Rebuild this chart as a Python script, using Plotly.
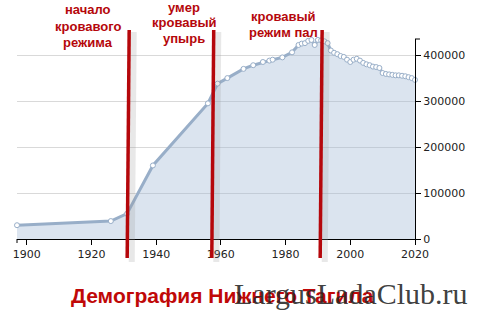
import plotly.graph_objects as go

years = [1897, 1926, 1931, 1939, 1956, 1959, 1962, 1967, 1970, 1973, 1975, 1976, 1979,
         1982, 1984, 1985, 1986, 1987, 1988, 1989, 1990, 1991, 1992, 1993, 1994, 1995,
         1996, 1997, 1998, 1999, 2000, 2001, 2002, 2003, 2004, 2005, 2006, 2007, 2008,
         2009, 2010, 2011, 2012, 2013, 2014, 2015, 2016, 2017, 2018, 2019, 2020]
population = [30000, 39000, 55000, 160000, 295000, 338000, 350000, 370000, 378000, 385000,
              388000, 390000, 395000, 406000, 422000, 425000, 426000, 431000, 433000,
              422000, 433000, 432000, 430000, 426000, 410000, 405000, 402000, 398000,
              396000, 390000, 385000, 390000, 392000, 388000, 383000, 380000, 378000,
              375000, 374000, 372000, 361000, 359000, 358000, 357000, 356000, 356000,
              355000, 354000, 352000, 350000, 346000]

x_ticks = [1900, 1920, 1940, 1960, 1980, 2000, 2020]
y_ticks = [0, 100000, 200000, 300000, 400000]
y_tick_text = ["0", "100000", "200000", "300000", "400000"]

event_years = [(1931.05, 1931.67), (1957.2, 1957.8), (1990.7, 1991.3)]
event_labels = [["начало", "кровавого", "режима"],
                ["умер", "кровавый", "упырь"],
                ["кровавый", "режим пал"]]

title_text = "Демография Нижнего Тагила"
watermark = "LargusLadaClub.ru"

RED = "#b5070b"

# pixel geometry of the plot area
W, H = 477, 315
L, R, T, B = 17, 60, 39, 76
plot_w = W - L - R
plot_h = H - T - B
x0_year, x1_year = 1897, 2020


def px_to_year(px):
    return x0_year + (px - L) * (x1_year - x0_year) / plot_w


def py_to_paper(py):
    return (H - B - py) / plot_h


label_px_x = [88, 185, 285]
label_px_y = [[10, 26, 42], [7, 23, 38], [17, 33]]

fig = go.Figure()
fig.add_trace(go.Scatter(
    x=years, y=population, mode="lines+markers",
    line=dict(color="#98aec8", width=3),
    marker=dict(size=5, color="white", line=dict(color="#98aec8", width=1)),
    fill="tozeroy", fillcolor="rgba(160,185,212,0.38)",
    cliponaxis=False, hoverinfo="skip",
))

shapes = []
for (xb, xt) in event_years:
    shapes.append(dict(type="line", xref="x", yref="paper", x0=xb + 1.4, x1=xt + 1.4,
                       y0=py_to_paper(262), y1=py_to_paper(32),
                       line=dict(color="rgba(150,150,150,0.22)", width=6), layer="above"))
    shapes.append(dict(type="line", xref="x", yref="paper", x0=xb, x1=xt,
                       y0=py_to_paper(258), y1=py_to_paper(30),
                       line=dict(color=RED, width=3.5), layer="above"))
# axis end caps
shapes.append(dict(type="line", xref="paper", yref="paper", x0=0, x1=0, y0=0,
                   y1=py_to_paper(243), line=dict(color="black", width=1)))
shapes.append(dict(type="line", xref="paper", yref="paper", x0=1, x1=1 + 5 / plot_w,
                   y0=1, y1=1, line=dict(color="black", width=1)))

annotations = []
for lines, lx, lys in zip(event_labels, label_px_x, label_px_y):
    for txt, ly in zip(lines, lys):
        annotations.append(dict(text="<b>" + txt + "</b>", x=px_to_year(lx), y=py_to_paper(ly),
                                xref="x", yref="paper", showarrow=False,
                                xanchor="center", yanchor="middle",
                                font=dict(family="Liberation Sans, Arial", size=13, color=RED)))
annotations.append(dict(text="<b>" + title_text + "</b>", x=(224 - L) / plot_w,
                        y=py_to_paper(295), xref="paper", yref="paper", showarrow=False,
                        xanchor="center", yanchor="middle",
                        font=dict(family="Liberation Sans, Arial", size=21, color="#c00808")))
annotations.append(dict(text=watermark, x=(353 - L) / plot_w, y=py_to_paper(293),
                        xref="paper", yref="paper", showarrow=False,
                        xanchor="center", yanchor="middle",
                        font=dict(family="Liberation Serif, Times New Roman", size=30,
                                  color="rgba(40,40,40,0.9)")))

fig.update_layout(
    width=W, height=H,
    margin=dict(l=L, r=R, t=T, b=B),
    paper_bgcolor="white", plot_bgcolor="white",
    showlegend=False,
    shapes=shapes,
    annotations=annotations,
    xaxis=dict(range=[x0_year, x1_year], tickvals=x_ticks, showgrid=False, zeroline=False,
               showline=True, linecolor="black", linewidth=1,
               ticks="outside", ticklen=5, tickcolor="black",
               tickfont=dict(family="DejaVu Sans", size=11, color="#222")),
    yaxis=dict(range=[0, 435000], tickvals=y_ticks, ticktext=y_tick_text, side="right",
               showgrid=True, gridcolor="#d9d9d9", gridwidth=1, zeroline=False,
               showline=True, linecolor="black", linewidth=1,
               ticks="outside", ticklen=5, tickcolor="black",
               tickfont=dict(family="DejaVu Sans", size=11, color="#222")),
)

fig.write_html("out.html")
